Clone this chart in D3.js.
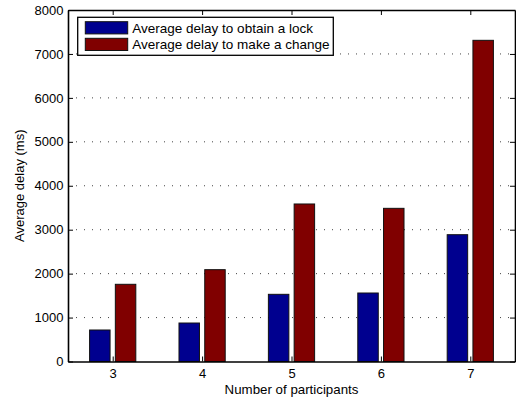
<!DOCTYPE html>
<html>
<head>
<meta charset="utf-8">
<script src="https://cdn.jsdelivr.net/npm/d3@7"></script>
<style>
  body { margin: 0; background: #fff; }
  svg text { font-family: "Liberation Sans", Arial, Helvetica, sans-serif; fill: #000; }
</style>
</head>
<body>
<div id="chart"></div>
<script>
// data
var participants = [3, 4, 5, 6, 7];
var lockDelay = [717, 876, 1529, 1559, 2886];
var changeDelay = [1757, 2090, 3585, 3486, 7310];
var yTicks = [0, 1000, 2000, 3000, 4000, 5000, 6000, 7000, 8000];
var seriesNames = ["Average delay to obtain a lock", "Average delay to make a change"];
var seriesColors = ["#00008f", "#800000"];

var svgWidth = 516, svgHeight = 398;
var margin = { top: 10, right: 1, bottom: 36.5, left: 68 };
var chartWidth = svgWidth - margin.left - margin.right;
var chartHeight = svgHeight - margin.top - margin.bottom;

var svg = d3.select("#chart")
  .append("svg")
  .attr("width", svgWidth)
  .attr("height", svgHeight);

var chartGroup = svg.append("g")
  .attr("transform", `translate(${margin.left}, ${margin.top})`);

// scales
var xScale = d3.scaleLinear().domain([2.5, 7.5]).range([0, chartWidth]);
var yScale = d3.scaleLinear().domain([0, 8000]).range([chartHeight, 0]);

// dotted grid
chartGroup.append("g").selectAll("line")
  .data(yTicks.slice(1, -1))
  .enter()
  .append("line")
  .attr("x1", 0)
  .attr("x2", chartWidth)
  .attr("y1", d => yScale(d))
  .attr("y2", d => yScale(d))
  .attr("stroke", "#444")
  .attr("stroke-width", 1)
  .attr("stroke-dasharray", "1,7");

// bars
var barW = 0.229, barOff = 0.144;
var series = [lockDelay, changeDelay];
series.forEach(function(vals, s) {
  chartGroup.append("g").selectAll("rect")
    .data(participants)
    .enter()
    .append("rect")
    .attr("x", (d, i) => xScale(d + (s === 0 ? -barOff : barOff) - barW / 2))
    .attr("width", xScale(barW) - xScale(0))
    .attr("y", (d, i) => yScale(vals[i]))
    .attr("height", (d, i) => chartHeight - yScale(vals[i]))
    .attr("fill", seriesColors[s])
    .attr("stroke", "#111")
    .attr("stroke-width", 1);
});

// axes (matlab style: ticks inward, box all round)
var fmt = d3.format("d");
var bottomAxis = d3.axisBottom(xScale).tickValues(participants).tickFormat(fmt).tickSizeInner(-5).tickSizeOuter(0).tickPadding(7.5);
var topAxis = d3.axisTop(xScale).tickValues(participants).tickSizeInner(-5).tickSizeOuter(0).tickFormat("");
var leftAxis = d3.axisLeft(yScale).tickValues(yTicks).tickFormat(fmt).tickSizeInner(-5).tickSizeOuter(0).tickPadding(10);
var rightAxis = d3.axisRight(yScale).tickValues(yTicks).tickSizeInner(-5).tickSizeOuter(0).tickFormat("");

var gx = chartGroup.append("g")
  .attr("transform", `translate(0, ${chartHeight})`)
  .call(bottomAxis);
var gt = chartGroup.append("g").call(topAxis);
var gy = chartGroup.append("g").call(leftAxis);
var gr = chartGroup.append("g")
  .attr("transform", `translate(${chartWidth}, 0)`)
  .call(rightAxis);

[gx, gt, gy, gr].forEach(function(g) {
  g.attr("font-family", null).attr("font-size", 13);
  g.select(".domain").attr("stroke", "#000").attr("stroke-width", 1.6);
  g.selectAll(".tick line").attr("stroke", "#000").attr("stroke-width", 1);
});
gy.selectAll("text").attr("x", -4.5);

// axis labels
chartGroup.append("text")
  .attr("transform", "rotate(-90)")
  .attr("x", -chartHeight / 2)
  .attr("y", -44)
  .attr("text-anchor", "middle")
  .attr("font-size", 13)
  .text("Average delay (ms)");

chartGroup.append("text")
  .attr("x", chartWidth / 2)
  .attr("y", chartHeight + 32)
  .attr("text-anchor", "middle")
  .attr("font-size", 13.3)
  .text("Number of participants");

// legend
var legend = chartGroup.append("g").attr("transform", "translate(9.7, 7.3)");
legend.append("rect")
  .attr("width", 255.6)
  .attr("height", 38)
  .attr("fill", "#fff")
  .attr("stroke", "#000")
  .attr("stroke-width", 1.3);
var items = legend.selectAll("g.item")
  .data(seriesNames)
  .enter()
  .append("g")
  .attr("class", "item")
  .attr("transform", (d, i) => `translate(7.6, ${4.4 + i * 16.6})`);
items.append("rect")
  .attr("width", 42.4)
  .attr("height", 12.2)
  .attr("fill", (d, i) => seriesColors[i])
  .attr("stroke", "#111")
  .attr("stroke-width", 1);
items.append("text")
  .attr("x", 47)
  .attr("y", 6.3)
  .attr("dy", "0.35em")
  .attr("font-size", 13.5)
  .text(d => d);
</script>
</body>
</html>
